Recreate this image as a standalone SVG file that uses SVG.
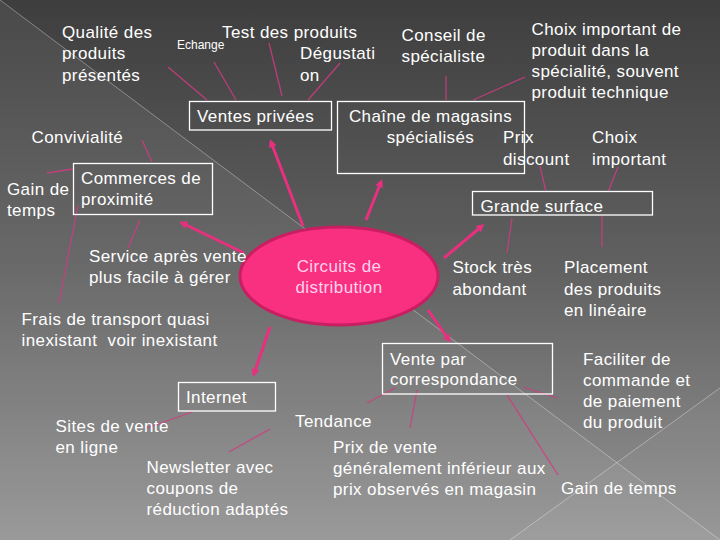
<svg xmlns="http://www.w3.org/2000/svg" width="720" height="540" viewBox="0 0 720 540">
<defs>
<linearGradient id="bg" x1="0" y1="0" x2="0" y2="1">
<stop offset="0" stop-color="#3e3e3e"/>
<stop offset="0.5" stop-color="#616161"/>
<stop offset="1" stop-color="#949494"/>
</linearGradient>
<marker id="ah" markerUnits="userSpaceOnUse" markerWidth="9" markerHeight="9" refX="5" refY="4" orient="auto">
<path d="M0,0 L8,4 L0,8 z" fill="#e8307f"/>
</marker>
<style>
text{font-family:"Liberation Sans",Arial,sans-serif;font-size:17px;fill:#ffffff;letter-spacing:0.4px}
.small{font-size:12px;letter-spacing:0}
.box{fill:none;stroke:#ffffff;stroke-width:1.3}
.arrow{stroke:#e8307f;stroke-width:3;fill:none;marker-end:url(#ah)}
.thin{stroke:#d03c80;stroke-width:1.3;stroke-opacity:0.85;fill:none}
.deco{stroke:#ffffff;stroke-opacity:0.35;stroke-width:1;fill:none}
.ctr{fill:#ffd2ec;text-anchor:middle}
</style>
</defs>
<rect x="0" y="0" width="720" height="540" fill="url(#bg)"/>
<polygon points="0,0 720,540 0,540" fill="#ffffff" fill-opacity="0.06"/>
<polygon points="720,388 510,540 720,540" fill="#ffffff" fill-opacity="0.04"/>
<line class="deco" x1="0" y1="0" x2="720" y2="540"/>
<line class="deco" x1="720" y1="388" x2="510" y2="540"/>

<g id="connectors">
<line class="arrow" x1="303" y1="226" x2="271" y2="142"/>
<line class="arrow" x1="366" y1="220" x2="381" y2="182"/>
<line class="arrow" x1="444" y1="258" x2="482" y2="226"/>
<line class="arrow" x1="428" y1="310" x2="449" y2="340"/>
<line class="arrow" x1="270" y1="327" x2="254" y2="374"/>
<line class="arrow" x1="244" y1="253" x2="182" y2="223"/>
<line class="thin" x1="168" y1="67" x2="207" y2="100"/>
<line class="thin" x1="214" y1="62" x2="236" y2="100"/>
<line class="thin" x1="269" y1="43" x2="282" y2="96"/>
<line class="thin" x1="340" y1="63" x2="308" y2="100"/>
<line class="thin" x1="446" y1="76" x2="446" y2="100"/>
<line class="thin" x1="525" y1="77" x2="473" y2="100"/>
<line class="thin" x1="142" y1="140" x2="152" y2="162"/>
<line class="thin" x1="47" y1="173" x2="73" y2="169"/>
<line class="thin" x1="140" y1="220" x2="128" y2="248"/>
<line class="thin" x1="78" y1="205" x2="59" y2="303"/>
<line class="thin" x1="540" y1="166" x2="546" y2="192"/>
<line class="thin" x1="618" y1="167" x2="608" y2="192"/>
<line class="thin" x1="512" y1="218" x2="507" y2="253"/>
<line class="thin" x1="602" y1="215" x2="602" y2="247"/>
<line class="thin" x1="192" y1="412" x2="147" y2="428"/>
<line class="thin" x1="270" y1="429" x2="229" y2="452"/>
<line class="thin" x1="395" y1="388" x2="367" y2="403"/>
<line class="thin" x1="417" y1="390" x2="410" y2="428"/>
<line class="thin" x1="507" y1="395" x2="558" y2="475"/>
<line class="thin" x1="523" y1="387" x2="557" y2="398"/>
</g>

<g id="center">
<ellipse cx="339" cy="276" rx="99" ry="49" fill="#f92f80" stroke="#c91f62" stroke-width="3"/>
<text class="ctr" x="339" y="272">Circuits de</text>
<text class="ctr" x="339" y="293">distribution</text>
</g>

<g id="ventes-privees">
<rect class="box" x="189.5" y="101.5" width="142" height="28.5"/>
<text x="197" y="121.5">Ventes privées</text>
</g>
<g id="qualite">
<text x="62" y="37.5">Qualité des</text>
<text x="62" y="59">produits</text>
<text x="62" y="80.5">présentés</text>
</g>
<g id="echange"><text class="small" x="177" y="48.5">Echange</text></g>
<g id="test"><text x="222" y="37.5">Test des produits</text></g>
<g id="degustation">
<text x="300" y="59">Dégustati</text>
<text x="300" y="80.5">on</text>
</g>

<g id="chaine">
<rect class="box" x="337.5" y="101.5" width="187" height="72"/>
<text x="430.5" y="121.5" text-anchor="middle">Chaîne de magasins</text>
<text x="430.5" y="143" text-anchor="middle">spécialisés</text>
</g>
<g id="conseil">
<text x="401.5" y="40.5">Conseil de</text>
<text x="401.5" y="61.5">spécialiste</text>
</g>
<g id="choix-specialite">
<text x="531.5" y="35">Choix important de</text>
<text x="531.5" y="56">produit dans la</text>
<text x="531.5" y="77">spécialité, souvent</text>
<text x="531.5" y="98">produit technique</text>
</g>

<g id="commerces">
<rect class="box" x="73.5" y="163.5" width="139" height="51"/>
<text x="81" y="184">Commerces de</text>
<text x="81" y="205">proximité</text>
</g>
<g id="convivialite"><text x="31.5" y="143">Convivialité</text></g>
<g id="gain-temps-1">
<text x="7" y="195">Gain de</text>
<text x="7" y="215.5">temps</text>
</g>
<g id="sav">
<text x="89" y="261.5">Service après vente</text>
<text x="89" y="282.5">plus facile à gérer</text>
</g>
<g id="frais">
<text x="21.5" y="325">Frais de transport quasi</text>
<text x="21.5" y="346" xml:space="preserve">inexistant  voir inexistant</text>
</g>

<g id="grande-surface">
<rect class="box" x="472.5" y="191.5" width="180" height="23.5"/>
<text x="480.5" y="211.5">Grande surface</text>
</g>
<g id="prix-discount">
<text x="503" y="143">Prix</text>
<text x="503" y="164.5">discount</text>
</g>
<g id="choix-important">
<text x="592" y="143">Choix</text>
<text x="592" y="164.5">important</text>
</g>
<g id="stock">
<text x="452.5" y="273">Stock très</text>
<text x="452.5" y="295">abondant</text>
</g>
<g id="placement">
<text x="564" y="273">Placement</text>
<text x="564" y="295">des produits</text>
<text x="564" y="316">en linéaire</text>
</g>

<g id="vpc">
<rect class="box" x="382.5" y="343.5" width="170" height="50.5"/>
<text x="390" y="365">Vente par</text>
<text x="390" y="385">correspondance</text>
</g>
<g id="faciliter">
<text x="583" y="365">Faciliter de</text>
<text x="583" y="386">commande et</text>
<text x="583" y="407">de paiement</text>
<text x="583" y="428">du produit</text>
</g>
<g id="tendance"><text x="295" y="426.5">Tendance</text></g>
<g id="prix-vente">
<text x="333" y="453">Prix de vente</text>
<text x="333" y="474">généralement inférieur aux</text>
<text x="333" y="495">prix observés en magasin</text>
</g>
<g id="gain-temps-2"><text x="561" y="494">Gain de temps</text></g>

<g id="internet">
<rect class="box" x="178.5" y="382.5" width="97" height="28.5"/>
<text x="186" y="403">Internet</text>
</g>
<g id="sites">
<text x="55.5" y="431.5">Sites de vente</text>
<text x="55.5" y="452.5">en ligne</text>
</g>
<g id="newsletter">
<text x="146.5" y="473">Newsletter avec</text>
<text x="146.5" y="494">coupons de</text>
<text x="146.5" y="515">réduction adaptés</text>
</g>
</svg>
